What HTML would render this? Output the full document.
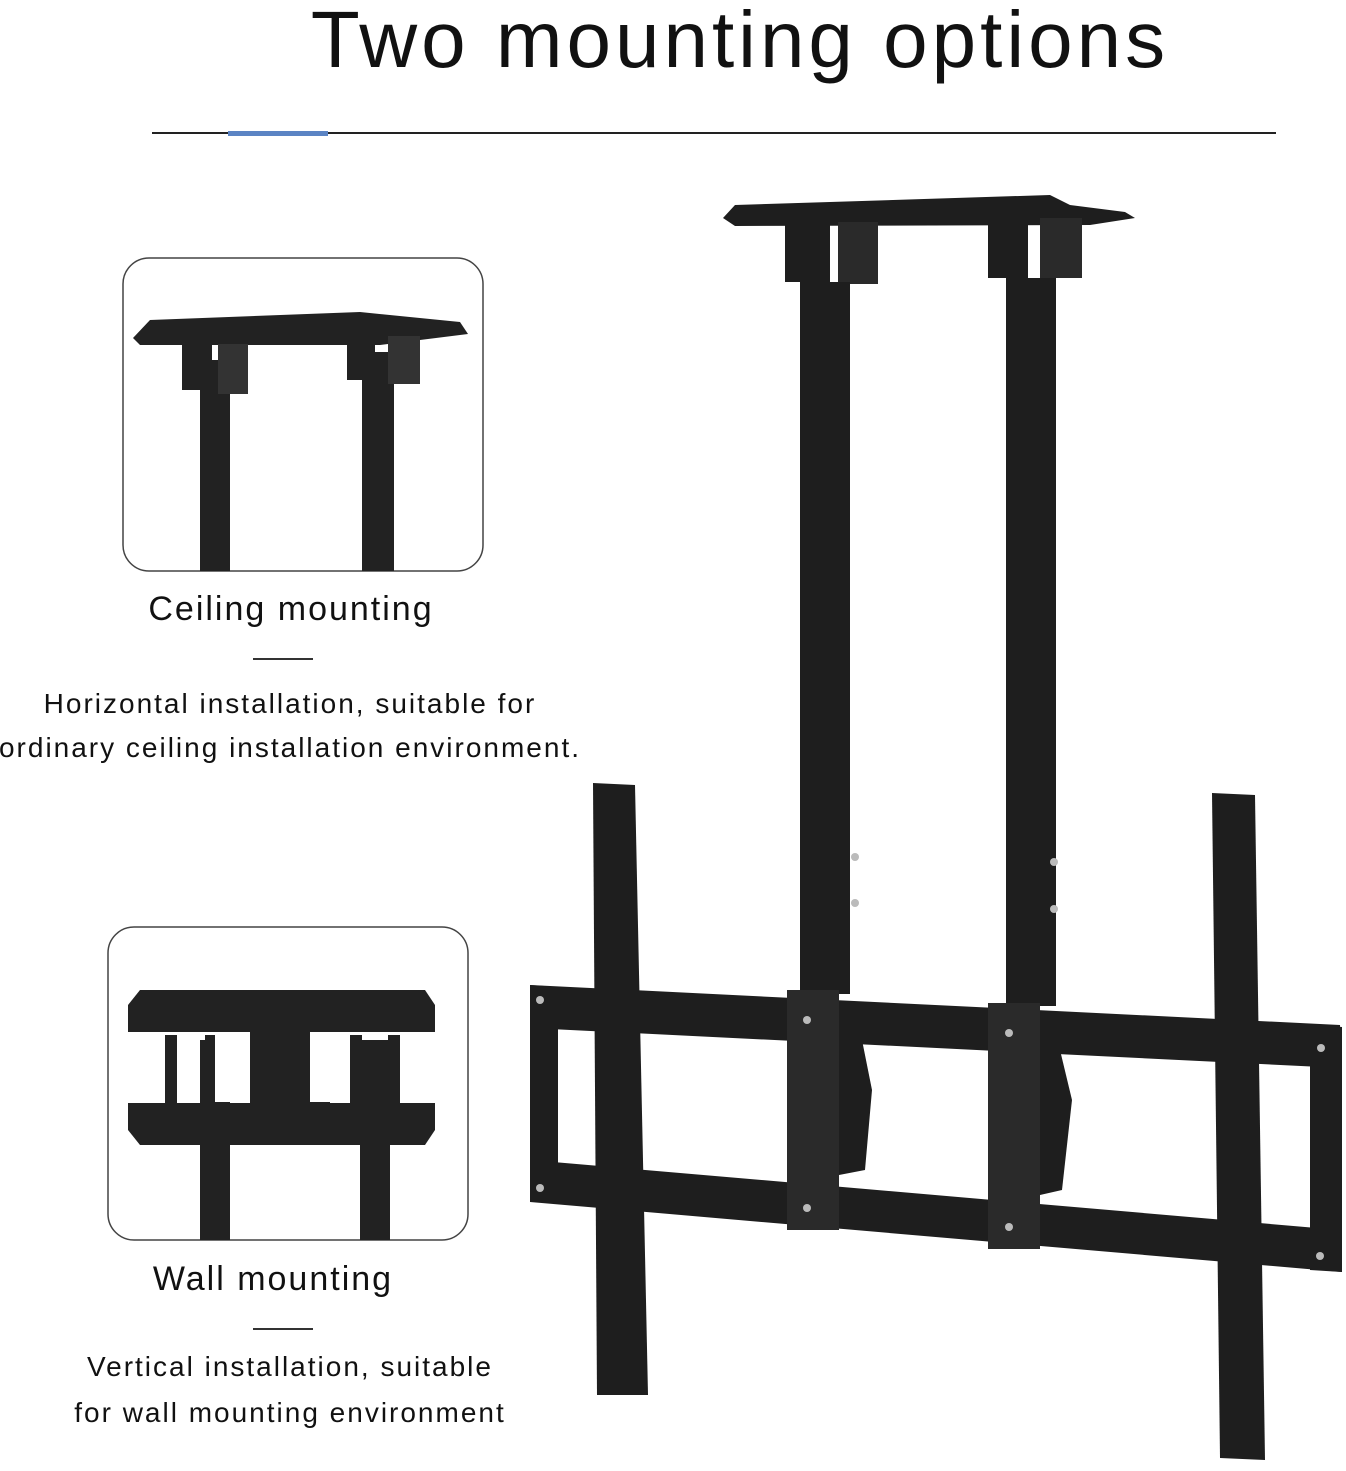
<!DOCTYPE html>
<html><head><style>
body{margin:0;background:#fff;width:1346px;height:1471px;overflow:hidden;position:relative;font-family:"Liberation Sans","DejaVu Sans",sans-serif;color:#111}
.t{position:absolute;white-space:nowrap;text-align:center}
</style></head><body>
<svg width="1346" height="1471" style="position:absolute;left:0;top:0">
<g fill="none" stroke="#444" stroke-width="1.5">
<rect x="123" y="258" width="360" height="313" rx="26"/>
<rect x="108" y="927" width="360" height="313" rx="26"/>
</g>
<line x1="152" y1="133" x2="1276" y2="133" stroke="#222" stroke-width="2"/>
<rect x="228" y="131" width="100" height="5" fill="#5b84c4"/>
<rect x="253" y="658" width="60" height="2" fill="#333"/>
<rect x="253" y="1328" width="60" height="2" fill="#333"/>
<g fill="#222">
<polygon points="133,338 150,320 360,312 460,322 468,334 380,345 140,345"/>
<rect x="200" y="360" width="30" height="211"/>
<rect x="362" y="352" width="32" height="219"/>
<rect x="182" y="340" width="30" height="50"/>
<rect x="218" y="344" width="30" height="50" fill="#333"/>
<rect x="347" y="330" width="28" height="50"/>
<rect x="388" y="336" width="32" height="48" fill="#333"/>
</g>
<g fill="#222">
<rect x="200" y="1040" width="30" height="200"/>
<rect x="360" y="1040" width="30" height="200"/>
<polygon points="140,990 425,990 435,1005 435,1032 128,1032 128,1005"/>
<polygon points="128,1103 435,1103 435,1130 425,1145 140,1145 128,1130"/>
<rect x="250" y="1020" width="80" height="100"/>
<rect x="165" y="1035" width="12" height="68"/><rect x="205" y="1035" width="12" height="68"/>
<rect x="350" y="1035" width="12" height="68"/><rect x="388" y="1035" width="12" height="68"/>
</g>
<g fill="#fff"><rect x="215" y="1032" width="32" height="70"/><rect x="310" y="1032" width="32" height="70"/></g>
<g fill="#1e1e1e">
<polygon points="723,218 735,205 1050,195 1070,205 1125,212 1135,218 1090,225 735,226"/>
<rect x="785" y="222" width="45" height="60"/>
<rect x="838" y="222" width="40" height="62" fill="#2a2a2a"/>
<rect x="988" y="220" width="40" height="58"/>
<rect x="1040" y="218" width="42" height="60" fill="#2a2a2a"/>
<rect x="800" y="282" width="50" height="712"/>
<rect x="1006" y="278" width="50" height="728"/>
<polygon points="530,985 1340,1025 1342,1068 530,1028"/>
<polygon points="530,1160 1340,1230 1342,1272 530,1202"/>
<polygon points="530,985 558,987 558,1202 530,1200"/>
<polygon points="1310,1025 1342,1027 1342,1272 1310,1270"/>
<polygon points="593,783 635,785 648,1395 597,1395"/>
<polygon points="1212,793 1255,795 1265,1460 1220,1458"/>
<rect x="787" y="990" width="52" height="240" fill="#2a2a2a"/>
<rect x="988" y="1003" width="52" height="246" fill="#2a2a2a"/>
<polygon points="839,1030 860,1030 872,1090 865,1170 839,1175"/>
<polygon points="1040,1050 1060,1050 1072,1100 1062,1190 1040,1195"/>
</g>
<rect x="561" y="1072" width="26" height="85" fill="#fff"/>
<g fill="#bbb">
<circle cx="540" cy="1000" r="4"/><circle cx="540" cy="1188" r="4"/>
<circle cx="807" cy="1020" r="4"/><circle cx="807" cy="1208" r="4"/>
<circle cx="1009" cy="1033" r="4"/><circle cx="1009" cy="1227" r="4"/>
<circle cx="1321" cy="1048" r="4"/><circle cx="1320" cy="1256" r="4"/>
<circle cx="855" cy="857" r="4"/><circle cx="855" cy="903" r="4"/>
<circle cx="1054" cy="862" r="4"/><circle cx="1054" cy="909" r="4"/>
</g>
</svg>
<div class="t" style="left:0;width:1480px;top:-6px;font-size:80px;letter-spacing:4px">Two mounting options</div>
<div class="t" style="left:91px;width:400px;top:590px;font-size:34px;letter-spacing:2px">Ceiling mounting</div>
<div class="t" style="left:-10px;width:600px;top:682px;font-size:28px;line-height:44px;letter-spacing:2px">Horizontal installation, suitable for<br>ordinary ceiling installation environment.</div>
<div class="t" style="left:73px;width:400px;top:1260px;font-size:34px;letter-spacing:2px">Wall mounting</div>
<div class="t" style="left:-10px;width:600px;top:1344px;font-size:28px;line-height:46px;letter-spacing:2px">Vertical installation, suitable<br>for wall mounting environment</div>
</body></html>
